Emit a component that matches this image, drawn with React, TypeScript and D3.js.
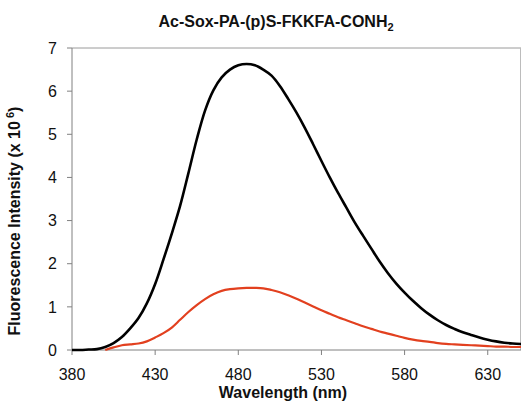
import React from "react";
import * as d3 from "d3";

const TITLE = "Ac-Sox-PA-(p)S-FKKFA-CONH";
const X_LABEL = "Wavelength (nm)";
const X_TICKS = [380, 430, 480, 530, 580, 630];
const Y_TICKS = [0, 1, 2, 3, 4, 5, 6, 7];

const WAVELENGTHS = [
  380, 385, 390, 395, 400, 405, 410, 415, 420, 425, 430, 435, 440, 445, 450, 455, 460, 465, 470, 475,
  480, 485, 490, 495, 500, 505, 510, 515, 520, 525, 530, 535, 540, 545, 550, 555, 560, 565, 570, 575,
  580, 585, 590, 595, 600, 605, 610, 615, 620, 625, 630, 635, 640, 645, 650,
];

const BLACK_SERIES = [
  0.0, 0.0, 0.01, 0.02, 0.07, 0.16, 0.3, 0.5, 0.74, 1.08, 1.53, 2.1, 2.7, 3.34, 4.1, 4.88, 5.55, 6.02, 6.32, 6.5,
  6.6, 6.63, 6.6, 6.5, 6.36, 6.12, 5.82, 5.5, 5.15, 4.77, 4.38, 4.0, 3.64, 3.3, 2.96, 2.65, 2.35, 2.05, 1.78, 1.54,
  1.33, 1.14, 0.97, 0.82, 0.69, 0.58, 0.49, 0.41, 0.35, 0.29, 0.24, 0.2, 0.17, 0.15, 0.14,
];

const RED_SERIES: (number | null)[] = [
  null, null, null, null, 0.0, 0.06, 0.11, 0.13, 0.15, 0.2, 0.29, 0.39, 0.52, 0.7, 0.88, 1.04, 1.18, 1.29, 1.37, 1.41,
  1.43, 1.44, 1.44, 1.43, 1.39, 1.34, 1.27, 1.19, 1.1, 1.01, 0.92, 0.84, 0.76, 0.69, 0.62, 0.55, 0.49, 0.43, 0.38, 0.33,
  0.28, 0.24, 0.21, 0.19, 0.16, 0.14, 0.13, 0.12, 0.11, 0.1, 0.09, 0.08, 0.08, 0.07, 0.07,
];

const W = 521;
const H = 402;
const FONT = "'Liberation Sans', Arial, sans-serif";

export default function App() {
  const x = d3.scaleLinear().domain([380, 650]).range([72, 521]);
  const y = d3.scaleLinear().domain([0, 7]).range([350, 48]);

  const line = d3
    .line<[number, number | null]>()
    .defined((d) => d[1] !== null)
    .x((d) => x(d[0]))
    .y((d) => y(d[1] as number))
    .curve(d3.curveCatmullRom.alpha(0.5));

  const blackPts = WAVELENGTHS.map((w, i) => [w, BLACK_SERIES[i]] as [number, number | null]);
  const redPts = WAVELENGTHS.map((w, i) => [w, RED_SERIES[i]] as [number, number | null]);

  const x0 = x(380);
  const x1 = x(650);
  const yBottom = y(0);
  const yTop = y(7);

  return (
    <svg
      width={W}
      height={H}
      style={{ position: "absolute", left: 0, top: 0, background: "#fff" }}
      fontFamily={FONT}
    >
      <rect x={0} y={0} width={W} height={H} fill="#fff" />
      {/* plot frame */}
      <line x1={x0} x2={x1} y1={yTop} y2={yTop} stroke="#9a9a9a" strokeWidth={1} />
      <line x1={x1 - 0.5} x2={x1 - 0.5} y1={yTop} y2={yBottom} stroke="#bcbcbc" strokeWidth={1} />
      <line x1={x0} x2={x0} y1={yTop} y2={yBottom} stroke="#808080" strokeWidth={1} />
      <line x1={x0} x2={x1} y1={yBottom} y2={yBottom} stroke="#808080" strokeWidth={1} />

      {/* y ticks */}
      {Y_TICKS.map((t) => (
        <g key={"y" + t}>
          <line x1={x0 - 5} x2={x0} y1={y(t)} y2={y(t)} stroke="#808080" strokeWidth={1} />
          <text x={57} y={y(t)} dy="0.36em" textAnchor="end" fontSize={16} fill="#111">
            {t}
          </text>
        </g>
      ))}

      {/* x ticks */}
      {X_TICKS.map((t) => (
        <g key={"x" + t}>
          <line x1={x(t)} x2={x(t)} y1={yBottom} y2={yBottom + 5} stroke="#808080" strokeWidth={1} />
          <text x={x(t)} y={380} textAnchor="middle" fontSize={16} fill="#111">
            {t}
          </text>
        </g>
      ))}

      {/* curves */}
      <path d={line(redPts) || ""} fill="none" stroke="#e2401f" strokeWidth={2.2} />
      <path d={line(blackPts) || ""} fill="none" stroke="#000" strokeWidth={2.6} />

      {/* titles */}
      <text x={276} y={27} textAnchor="middle" fontSize={16} fontWeight="bold" fill="#111">
        {TITLE}
        <tspan fontSize={11} dy={4}>2</tspan>
      </text>
      <text x={283} y={398} textAnchor="middle" fontSize={16} fontWeight="bold" fill="#111">
        {X_LABEL}
      </text>
      <text
        transform="translate(20,221) rotate(-90)"
        textAnchor="middle"
        fontSize={16}
        fontWeight="bold"
        fill="#111"
      >
        Fluorescence Intensity (x 10
        <tspan fontSize={11} dy={-6}> 6</tspan>
        <tspan dy={6}>)</tspan>
      </text>
    </svg>
  );
}
